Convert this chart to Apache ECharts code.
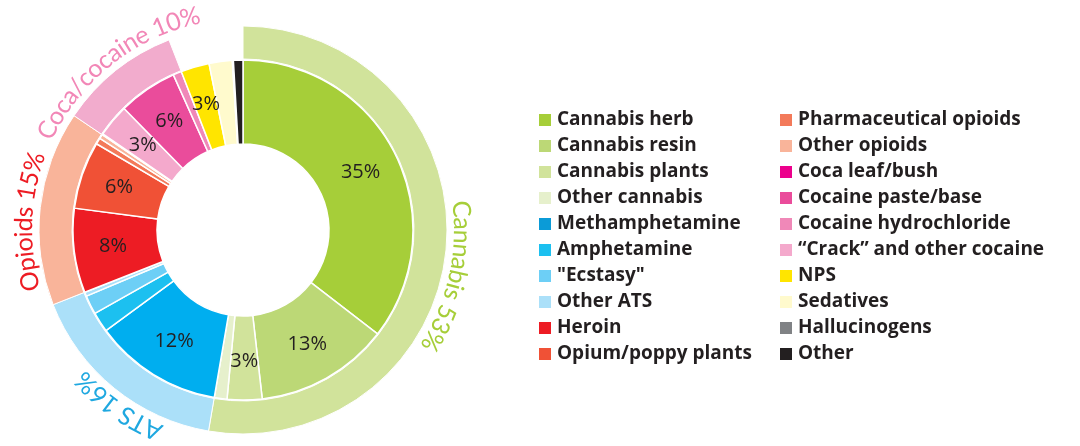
<!DOCTYPE html>
<html>
<head>
<meta charset="utf-8">
<title>Drug seizures by type</title>
<script src="https://cdn.jsdelivr.net/npm/echarts@6/dist/echarts.min.js"></script>
<style>
  body { margin: 0; background: #fff; }
  #main { width: 1080px; height: 446px; }
</style>
</head>
<body>
<div id="main"></div>
<script>
// inner ring, clockwise from 12 o'clock (share in %)
var drugNames = ['Cannabis herb', 'Cannabis resin', 'Cannabis plants', 'Other cannabis',
  'Methamphetamine', 'Amphetamine', '"Ecstasy"', 'Other ATS',
  'Heroin', 'Opium/poppy plants', 'Pharmaceutical opioids', 'Other opioids',
  'Coca leaf/bush', '\u201cCrack\u201d and other cocaine', 'Cocaine paste/base', 'Cocaine hydrochloride',
  'NPS', 'Sedatives', 'Hallucinogens', 'Other'];
var drugShares = [35.4, 12.7, 3.3, 1.2,
  12.2, 1.9, 1.8, 0.4,
  8.0, 6.4, 0.6, 0.4,
  0.1, 3.1, 5.6, 0.8,
  2.7, 2.2, 0.1, 0.9];
var drugGroup = [0, 0, 0, 0, 1, 1, 1, 1, 2, 2, 2, 2, 3, 3, 3, 3, 4, 4, 4, 4];
var drugColors = ['#a6ce39', '#bcd876', '#d1e39b', '#e6f0cc',
  '#00aeef', '#1cc0f0', '#6dcff6', '#abe0f9',
  '#ed1c24', '#f05136', '#f37a5a', '#f9b49a',
  '#ec008c', '#f4a9cc', '#ea4c9b', '#f088b8',
  '#ffe500', '#fffacd', '#808285', '#231f20'];

// outer ring groups (last one is left blank)
var groupNames = ['Cannabis', 'ATS', 'Opioids', 'Coca/cocaine', 'rest'];
var groupColors = ['#d1e39b', '#abe0f9', '#f9b49a', '#f2accd', 'rgba(0,0,0,0)'];
var groupTextColors = ['#a6ce39', '#1fa8e0', '#ed1c24', '#f287b7', ''];

// legend columns
var legendCol1 = ['Cannabis herb', 'Cannabis resin', 'Cannabis plants', 'Other cannabis',
  'Methamphetamine', 'Amphetamine', '"Ecstasy"', 'Other ATS', 'Heroin', 'Opium/poppy plants'];
var legendCol2 = ['Pharmaceutical opioids', 'Other opioids', 'Coca leaf/bush', 'Cocaine paste/base',
  'Cocaine hydrochloride', '\u201cCrack\u201d and other cocaine', 'NPS', 'Sedatives', 'Hallucinogens', 'Other'];

var cx = 243, cy = 230;

var groupShares = groupNames.map(function (g, i) {
  var s = 0;
  drugShares.forEach(function (v, j) { if (drugGroup[j] === i) s += v; });
  return Math.round(s * 10) / 10;
});

var innerData = drugNames.map(function (n, i) {
  return { name: n, value: drugShares[i], itemStyle: { color: drugColors[i] } };
});
var outerData = groupNames.map(function (n, i) {
  return { name: n, value: groupShares[i],
    itemStyle: { color: groupColors[i], borderWidth: i === 4 ? 0 : 1 } };
});

function legendItems(list) {
  return list.map(function (n) {
    var it = { name: n };
    if (n === 'Methamphetamine') it.itemStyle = { color: '#0b9bd7' };
    return it;
  });
}

// curved group labels, letters upright outward, reading clockwise
var measure = document.createElement('canvas').getContext('2d');
var labelFont = '25px Lato';
measure.font = labelFont;
var labelNudge = [8, -3.5, -3.5, 1];
var labelR = 219;

function curvedText(text, midDeg, color) {
  var widths = text.split('').map(function (c) { return measure.measureText(c).width; });
  var total = widths.reduce(function (a, b) { return a + b; }, 0);
  var start = midDeg * Math.PI / 180 - total / 2 / labelR;
  var acc = 0, out = [];
  text.split('').forEach(function (c, k) {
    var th = start + (acc + widths[k] / 2) / labelR;
    acc += widths[k];
    out.push({
      type: 'text',
      x: cx + labelR * Math.sin(th),
      y: cy - labelR * Math.cos(th),
      rotation: -th,
      silent: true,
      style: { text: c, font: labelFont, fill: color, align: 'center', verticalAlign: 'middle' }
    });
  });
  return out;
}

var graphics = [];
var cum = 0;
for (var g = 0; g < 4; g++) {
  var mid = (cum + groupShares[g] / 2) / 100 * 360 + labelNudge[g];
  cum += groupShares[g];
  graphics = graphics.concat(curvedText(groupNames[g] + ' ' + Math.round(groupShares[g]) + '%', mid, groupTextColors[g]));
}

var legendText = { fontFamily: 'Open Sans', fontWeight: 'bold', fontSize: 19, color: '#231f20' };

var chart = echarts.init(document.getElementById('main'));
chart.setOption({
  animation: false,
  backgroundColor: '#fff',
  legend: [{
    left: 532, top: 102, orient: 'vertical', icon: 'rect',
    itemWidth: 14, itemHeight: 14, itemGap: 0, selectedMode: false,
    data: legendItems(legendCol1), textStyle: Object.assign({ height: 26, lineHeight: 26 }, legendText)
  }, {
    left: 773, top: 102, orient: 'vertical', icon: 'rect',
    itemWidth: 14, itemHeight: 14, itemGap: 0, selectedMode: false,
    data: legendItems(legendCol2), textStyle: Object.assign({ height: 26, lineHeight: 26 }, legendText)
  }],
  series: [{
    type: 'pie',
    name: 'drugs',
    center: [cx, cy],
    radius: [86, 170],
    startAngle: 90,
    clockwise: true,
    avoidLabelOverlap: false,
    silent: true,
    itemStyle: { borderColor: '#fff', borderWidth: 1.5 },
    label: {
      position: 'inside',
      fontFamily: 'Open Sans',
      fontSize: 20,
      color: '#231f20',
      formatter: function (p) { return p.value >= 2.5 ? Math.round(p.value) + '%' : ''; }
    },
    labelLine: { show: false },
    data: innerData
  }, {
    type: 'pie',
    name: 'groups',
    center: [cx, cy],
    radius: [171, 204],
    startAngle: 90,
    clockwise: true,
    silent: true,
    itemStyle: { borderColor: '#fff' },
    label: { show: false },
    labelLine: { show: false },
    data: outerData
  }],
  graphic: graphics
});
</script>
</body>
</html>
